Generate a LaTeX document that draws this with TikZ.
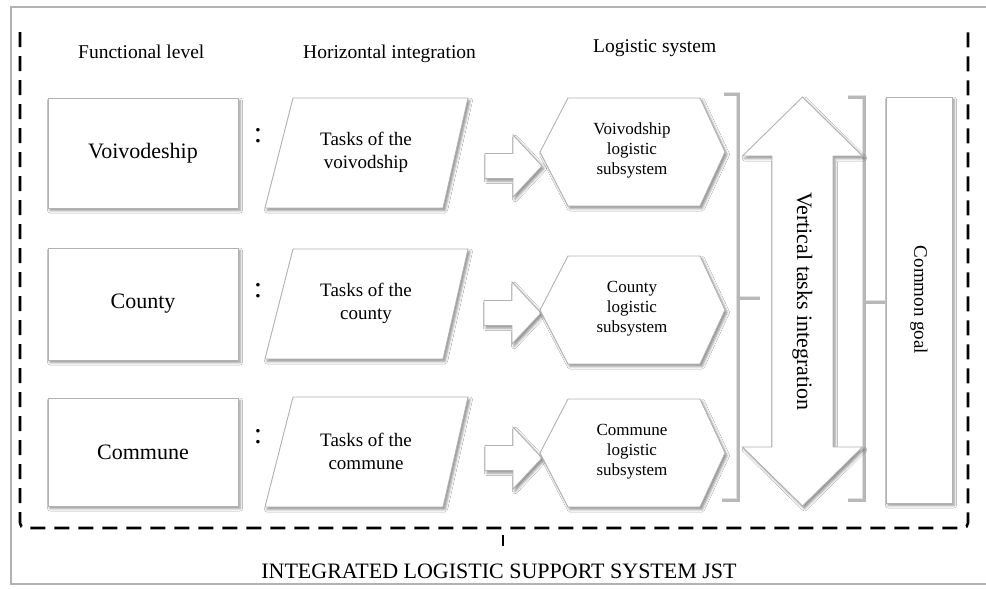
\documentclass[tikz,border=0pt]{standalone}
\usepackage{fontspec}
\setmainfont{Liberation Serif}
\usetikzlibrary{shadows.blur,calc}
\begin{document}
\begin{tikzpicture}[x=1pt,y=-1pt,
  shp/.style={draw=black!30, line width=0.9pt, fill=white,
    blur shadow={shadow xshift=2pt, shadow yshift=-2.5pt, shadow blur radius=2.5pt, shadow opacity=45}},
  brkshadow/.style={draw=black!12, line width=4.5pt},
  brk/.style={draw=black!28, line width=3pt},
  dashbr/.style={draw=black, line width=2.6pt, dash pattern=on 15pt off 9pt, rounded corners=5pt},
  hdr/.style={font=\fontsize{19.5}{23}\selectfont, anchor=base west, inner sep=0pt},
  lvl/.style={font=\fontsize{22}{26}\selectfont},
  task/.style={font=\fontsize{19}{23}\selectfont, align=center, inner sep=0pt},
  sub/.style={font=\fontsize{17}{20}\selectfont, align=center, inner sep=0pt},
  colon/.style={font=\fontsize{30}{30}\selectfont, inner sep=0pt}
]
\useasboundingbox (0,0) rectangle (986,589);
\fill[white] (0,0) rectangle (986,589);

% outer frame
\draw[black!30, line width=1.4pt] (11,7) rectangle (995,584);

% dashed bracket
\draw[dashbr] (20,32) -- (20,528) -- (968,528) -- (968,30);
\draw[black, line width=2.6pt] (503,535) -- (503,546);

% headers
\node[hdr] (hfun) at (78,58) {Functional level};
\node[hdr] (hhor) at (303,58) {Horizontal integration};
\node[hdr] (hlog) at (593,52) {Logistic system};

% left boxes
\node[shp, lvl, minimum width=190pt, minimum height=110pt] (lv) at (143,153) {Voivodeship};
\node[shp, lvl, minimum width=190pt, minimum height=112pt] (lc) at (143,304) {County};
\node[shp, lvl, minimum width=190pt, minimum height=108pt] (lm) at (143,452) {Commune};

% colons
\node[colon] (cv) at (258,136) {:};
\node[colon] (cc) at (258,291) {:};
\node[colon] (cm) at (258,437) {:};

% parallelograms
\coordinate (pv) at (366,153);
\coordinate (pc) at (366,304);
\coordinate (pm) at (366,452);
\foreach \p in {pv,pc,pm}{
  \draw[shp] ($(\p)+(-101,55)$) -- ($(\p)+(-73,-55)$) -- ($(\p)+(102,-55)$) -- ($(\p)+(77,55)$) -- cycle;
}
\node[task] (tv) at (366,152) {Tasks of the\\voivodship};
\node[task] (tc) at (366,303) {Tasks of the\\county};
\node[task] (tm) at (366,451) {Tasks of the\\commune};

% block arrows
\coordinate (av) at (485,166);
\coordinate (ac) at (484,313);
\coordinate (am) at (485,458);
\foreach \a in {av,ac,am}{
  \draw[shp] ($(\a)+(0,-12.5)$) -- ($(\a)+(28,-12.5)$) -- ($(\a)+(28,-31)$) -- ($(\a)+(57,0)$)
     -- ($(\a)+(28,31)$) -- ($(\a)+(28,12.5)$) -- ($(\a)+(0,12.5)$) -- cycle;
}

% hexagons
\coordinate (xv) at (632,152);
\coordinate (xc) at (632,310);
\coordinate (xm) at (632,453);
\foreach \h in {xv,xc,xm}{
  \draw[shp] ($(\h)+(-92,0)$) -- ($(\h)+(-64,-54)$) -- ($(\h)+(68,-54)$) -- ($(\h)+(93,0)$)
     -- ($(\h)+(68,54)$) -- ($(\h)+(-64,54)$) -- cycle;
}
\node[sub] (sv) at (632,150) {Voivodship\\logistic\\subsystem};
\node[sub] (sc) at (632,309) {County\\logistic\\subsystem};
\node[sub] (sm) at (632,452) {Commune\\logistic\\subsystem};

% brackets
\coordinate (b1t) at (738,94);
\coordinate (b1b) at (738,500);
\coordinate (b1m) at (738,298);
\coordinate (b2t) at (864,97);
\coordinate (b2b) at (864,500);
\coordinate (b2m) at (864,302);
\begin{scope}[shift={(2,2)}]
\draw[brkshadow] ($(b1t)+(-14,0)$) -- (b1t) -- (b1b) -- ($(b1b)+(-16,0)$);
\draw[brkshadow] (b1m) -- ($(b1m)+(22,0)$);
\draw[brkshadow] ($(b2t)+(-16,0)$) -- (b2t) -- (b2b) -- ($(b2b)+(-16,0)$);
\draw[brkshadow] (b2m) -- ($(b2m)+(21,0)$);
\end{scope}
\draw[brk] ($(b1t)+(-14,0)$) -- (b1t) -- (b1b) -- ($(b1b)+(-16,0)$);
\draw[brk] (b1m) -- ($(b1m)+(22,0)$);
\draw[brk] ($(b2t)+(-16,0)$) -- (b2t) -- (b2b) -- ($(b2b)+(-16,0)$);
\draw[brk] (b2m) -- ($(b2m)+(21,0)$);

% double arrow
\coordinate (da) at (802.5,301.5);
\draw[shp] ($(da)+(0,-204.5)$) -- ($(da)+(60,-145.5)$) -- ($(da)+(30.5,-145.5)$) -- ($(da)+(30.5,145.5)$)
   -- ($(da)+(60,145.5)$) -- ($(da)+(0,204.5)$) -- ($(da)+(-60,145.5)$) -- ($(da)+(-30.5,145.5)$)
   -- ($(da)+(-30.5,-145.5)$) -- ($(da)+(-60,-145.5)$) -- cycle;
\node[rotate=-90, font=\fontsize{22}{26}\selectfont] (vt) at (da) {Vertical tasks integration};

% common goal
\node[shp, minimum width=66pt, minimum height=406pt] (cg) at (919,300) {};
\node[rotate=-90, font=\fontsize{19}{23}\selectfont] (cgt) at (cg) {Common goal};

% title
\node[font=\fontsize{22}{26}\selectfont, anchor=base, inner sep=0pt] (title) at (499,578) {INTEGRATED LOGISTIC SUPPORT SYSTEM JST};
\end{tikzpicture}
\end{document}
